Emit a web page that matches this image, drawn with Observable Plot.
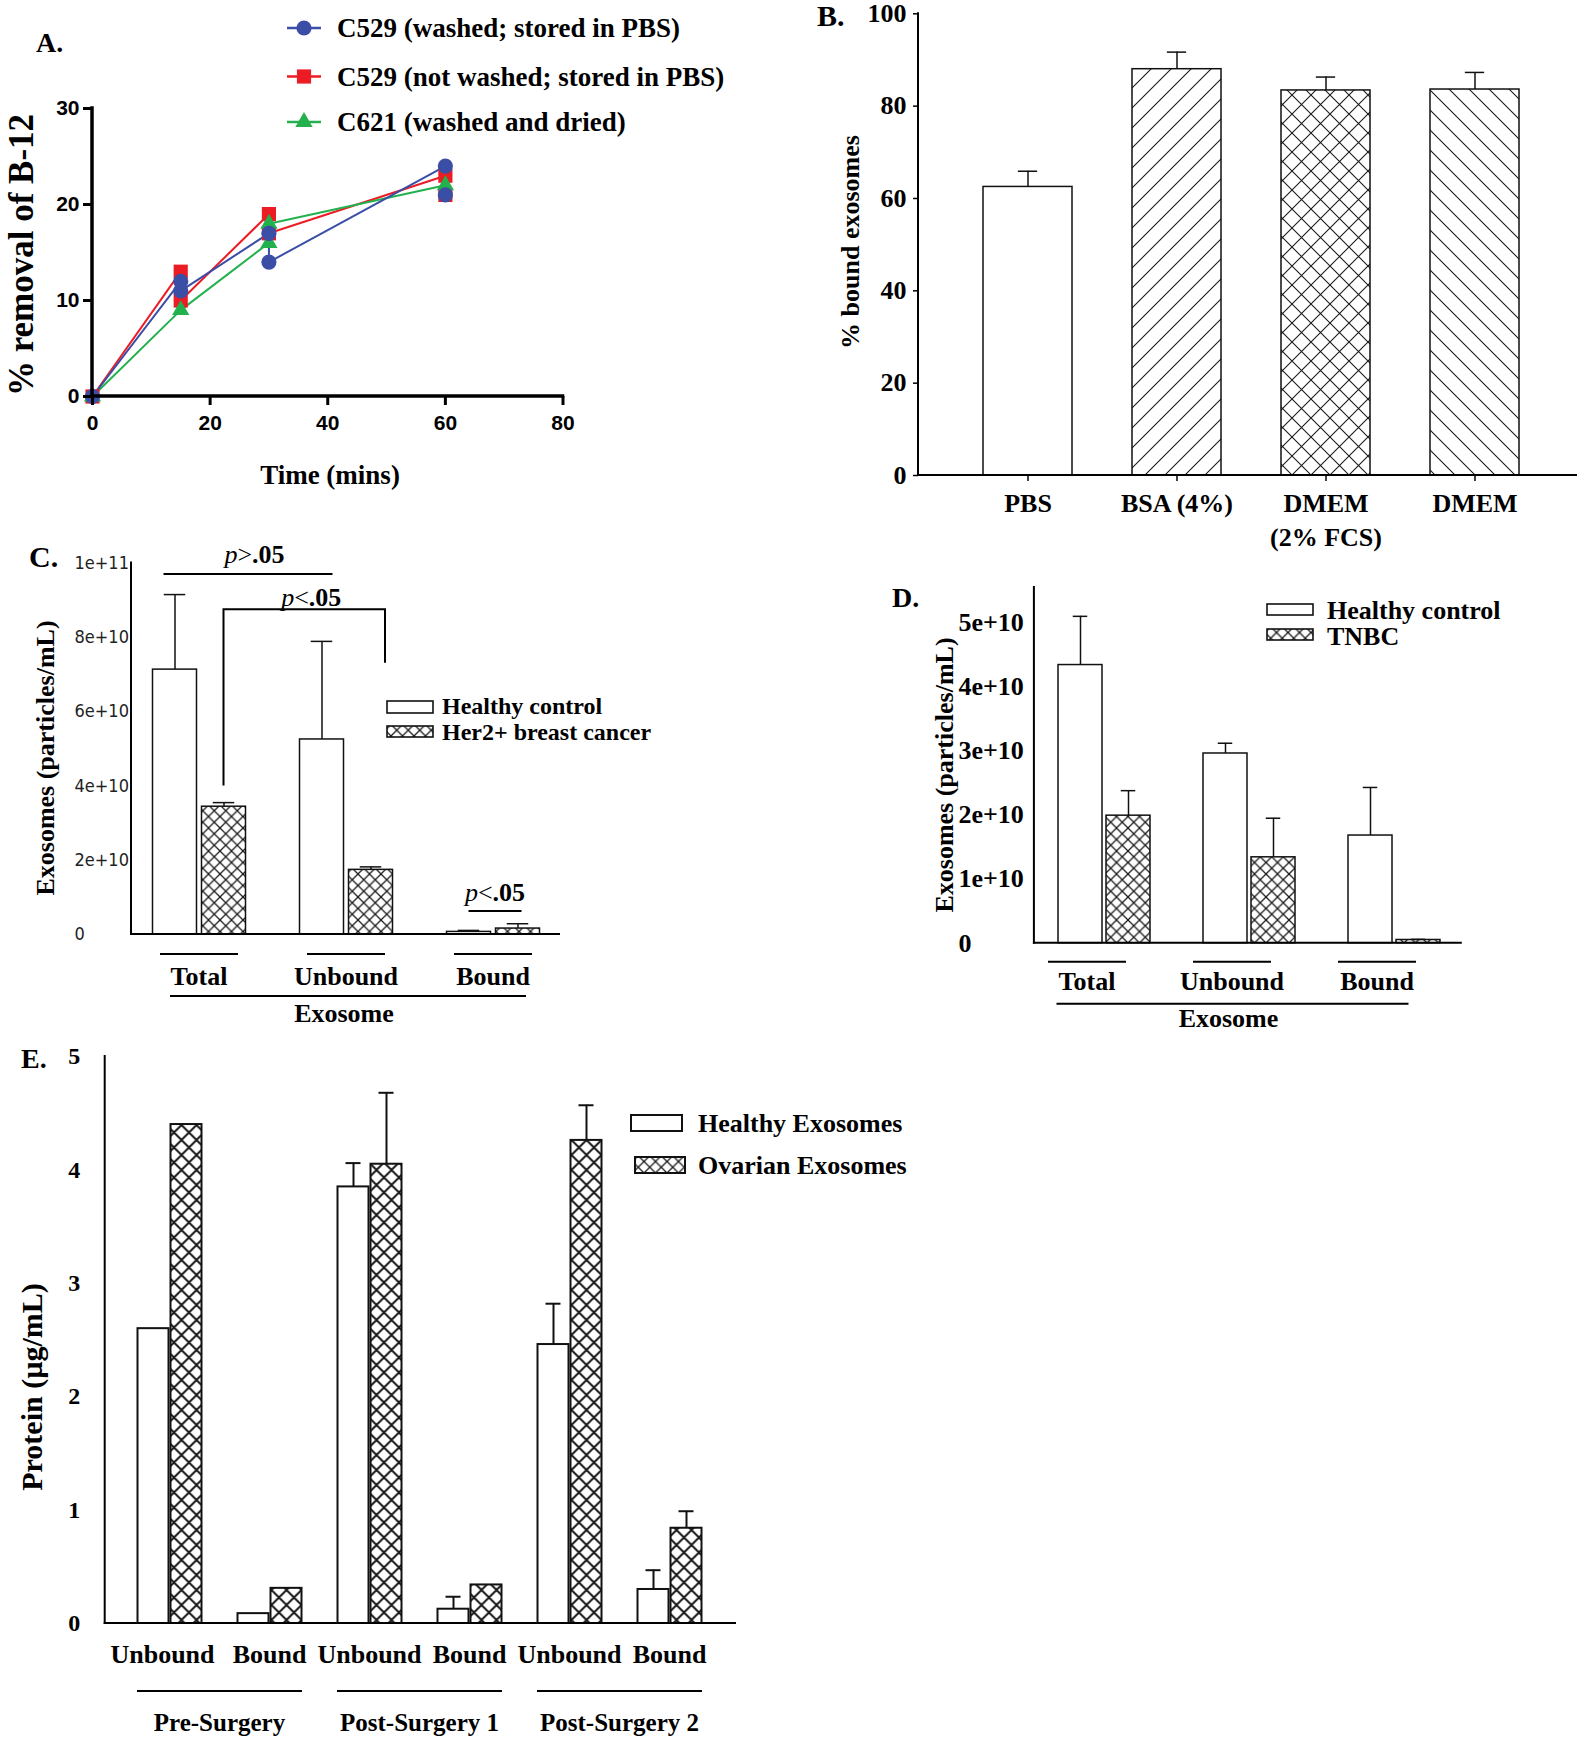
<!DOCTYPE html>
<html>
<head>
<meta charset="utf-8">
<script src="https://cdn.jsdelivr.net/npm/d3@7"></script>
<script src="https://cdn.jsdelivr.net/npm/@observablehq/plot@0.6"></script>
<style>
  html, body { margin: 0; padding: 0; background: #fff; }
  #fig { position: relative; width: 1592px; height: 1743px; overflow: hidden; background: #fff; }
  #fig > svg { position: absolute; left: 0; top: 0; }
</style>
</head>
<body>
<div id="fig"></div>
<script>
// ---------- Panel A: % removal of B-12 over time ----------
const seriesNamesA = ["C529 (washed; stored in PBS)", "C529 (not washed; stored in PBS)", "C621 (washed and dried)"];
const timeA1 = [0, 15, 15, 30, 30, 60, 60];
const removalA1 = [0, 12, 11, 17, 14, 24, 21];
const timeA2 = [0, 15, 15, 30, 30, 60, 60];
const removalA2 = [0, 13, 10, 19, 17, 23, 21];
const timeA3 = [0, 15, 30, 30, 60];
const removalA3 = [0, 9, 16, 18, 22];
const timeTicksA = [0, 20, 40, 60, 80];
const removalTicksA = [0, 10, 20, 30];

// ---------- Panel B: % bound exosomes by medium ----------
const mediaB = ["PBS", "BSA (4%)", "DMEM\n(2% FCS)", "DMEM"];
const boundB = [62.5, 88.0, 83.4, 83.6];
const boundSemB = [3.4, 3.7, 2.9, 3.7];
const boundTicksB = [0, 20, 40, 60, 80, 100];

// ---------- Panel C: Healthy vs Her2+ exosomes ----------
const groupsC = ["Total", "Unbound", "Bound"];
const healthyC = [7.13e10, 5.25e10, 0.07e10];
const healthySemC = [2.02e10, 2.64e10, 0.04e10];
const her2C = [3.44e10, 1.74e10, 0.16e10];
const her2SemC = [0.11e10, 0.08e10, 0.13e10];
const ticksC = [0, 2e10, 4e10, 6e10, 8e10, 1e11];

// ---------- Panel D: Healthy vs TNBC exosomes ----------
const groupsD = ["Total", "Unbound", "Bound"];
const healthyD = [4.34e10, 2.96e10, 1.68e10];
const healthySemD = [0.76e10, 0.16e10, 0.75e10];
const tnbcD = [1.99e10, 1.34e10, 0.05e10];
const tnbcSemD = [0.39e10, 0.61e10, 0.01e10];
const ticksD = [0, 1e10, 2e10, 3e10, 4e10, 5e10];

// ---------- Panel E: protein, healthy vs ovarian exosomes ----------
const stagesE = ["Pre-Surgery", "Post-Surgery 1", "Post-Surgery 2"];
const fractionsE = ["Unbound", "Bound"];
const healthyE = [2.60, 0.087, 3.85, 0.126, 2.46, 0.30];
const healthySemE = [0, 0, 0.21, 0.11, 0.36, 0.17];
const ovarianE = [4.40, 0.31, 4.05, 0.34, 4.26, 0.84];
const ovarianSemE = [0, 0, 0.63, 0, 0.31, 0.15];
const ticksE = [0, 1, 2, 3, 4, 5];

// ---------- shared setup ----------
const W = 1592, H = 1743;
const SERIF = "'Liberation Serif', 'Times New Roman', Times, serif";
const SANS = "'Liberation Sans', Arial, Helvetica, sans-serif";
const NARROW = "'Liberation Sans Narrow', 'Arial Narrow', 'DejaVu Sans Condensed', sans-serif";
const INK = "#111";

const fig = document.getElementById("fig");

// hatch patterns used as bar fills
const defs = d3.select(fig).append("svg").attr("width", 0).attr("height", 0).append("defs");
function hatch(id, size, path, sw) {
  defs.append("pattern")
    .attr("id", id).attr("patternUnits", "userSpaceOnUse")
    .attr("width", size).attr("height", size)
    .append("path").attr("d", path)
    .attr("stroke", "#1a1a1a").attr("stroke-width", sw).attr("fill", "none");
}
hatch("hatchFwd", 20, "M-5,5L5,-5M0,20L20,0M15,25L25,15", 1.1);
hatch("hatchBack", 20, "M-5,15L5,25M0,0L20,20M15,-5L25,5", 1.1);
hatch("crossLarge", 19, "M0,0L19,19M19,0L0,19", 1.1);
hatch("crossSmall", 11.5, "M0,0L11.5,11.5M11.5,0L0,11.5", 1.3);
hatch("crossBold", 15, "M0,0L15,15M15,0L0,15", 2);

// every panel is a page-sized plot whose frame is placed by its margins
function framePlot({left, right, top, bottom, x, y, marks}) {
  const svg = Plot.plot({
    width: W, height: H,
    marginLeft: left, marginRight: W - right,
    marginTop: top, marginBottom: H - bottom,
    x, y, marks,
    style: {background: "transparent", overflow: "visible", maxWidth: "none"}
  });
  fig.appendChild(svg);
  return svg;
}

const bandwidthOf = s => typeof s.bandwidth === "function" ? s.bandwidth() : (s.bandwidth || 0);

// left and bottom axis lines along the plot frame
const axisLines = (sw) => (index, scales, values, dims) => {
  const {width, height, marginLeft, marginRight, marginTop, marginBottom} = dims;
  const g = d3.create("svg:g").attr("stroke", "#000").attr("stroke-width", sw).attr("stroke-linecap", "square");
  const y0 = height - marginBottom;
  g.append("line").attr("x1", marginLeft).attr("x2", marginLeft).attr("y1", marginTop).attr("y2", y0);
  g.append("line").attr("x1", marginLeft).attr("x2", width - marginRight).attr("y1", y0).attr("y2", y0);
  return g.node();
};

function svgText(g, x, y, text, {size = 26, anchor = "middle", family = SERIF, weight = "bold"} = {}) {
  return g.append("text").attr("x", x).attr("y", y)
    .attr("font-size", size).attr("font-family", family).attr("font-weight", weight)
    .attr("text-anchor", anchor).attr("dominant-baseline", "central").attr("fill", "#000")
    .text(text);
}
function svgLine(g, x1, y1, x2, y2, sw = 2) {
  return g.append("line").attr("x1", x1).attr("y1", y1).attr("x2", x2).attr("y2", y2)
    .attr("stroke", "#000").attr("stroke-width", sw);
}
function pValue(g, x, y, rel) {
  const t = g.append("text").attr("x", x).attr("y", y)
    .attr("font-size", 26).attr("font-family", SERIF)
    .attr("text-anchor", "middle").attr("dominant-baseline", "central");
  t.append("tspan").attr("font-style", "italic").text("p");
  t.append("tspan").text(rel);
  t.append("tspan").attr("font-weight", "bold").text(".05");
}

// bars with upward error bars for one series, shifted within its category by dx
function barSeries(rows, {dx, fill, bw, cap, sw = 1.5}) {
  const inset = (bw - cap) / 2;
  return [
    Plot.barY(rows, {x: "key", y: "value", dx, fill, stroke: INK, strokeWidth: sw}),
    Plot.ruleX(rows.filter(d => d.sem > 0), {x: "key", y1: "value", y2: d => d.value + d.sem, dx, stroke: INK, strokeWidth: sw}),
    Plot.tickY(rows.filter(d => d.sem > 0), {x: "key", y: d => d.value + d.sem, dx, insetLeft: inset, insetRight: inset, stroke: INK, strokeWidth: sw})
  ];
}
const zipRows = (keys, values, sems) => keys.map((key, i) => ({key, value: values[i], sem: sems[i]}));
const sciFormat = v => v === 0 ? "0" : d3.format(".0e")(v);

// ---------- Panel A ----------
const colorsA = ["#3b4ea6", "#ec1c24", "#23b14d"];
const symbolsA = ["circle", "square", "triangle"];
const radiiA = [7.6, 8, 6.4];
const rowsA = [
  timeA1.map((t, i) => ({t, v: removalA1[i]})),
  timeA2.map((t, i) => ({t, v: removalA2[i]})),
  timeA3.map((t, i) => ({t, v: removalA3[i]}))
];
const drawOrderA = [1, 2, 0];
framePlot({
  left: 92, right: 562.5, top: 108, bottom: 396,
  x: {domain: [0, 80]},
  y: {domain: [0, 30]},
  marks: [
    ...drawOrderA.map(k => Plot.line(rowsA[k], {x: "t", y: "v", stroke: colorsA[k], strokeWidth: 2})),
    ...drawOrderA.map(k => Plot.dot(rowsA[k], {x: "t", y: "v", symbol: symbolsA[k], r: radiiA[k], fill: colorsA[k]})),
    Plot.axisX({ticks: timeTicksA, tickSize: 9, tickPadding: 10, strokeWidth: 3, label: null,
      fontSize: 21, fontWeight: "bold", fontFamily: SANS}),
    Plot.axisY({ticks: removalTicksA, tickSize: 9, tickPadding: 4, strokeWidth: 3, label: null,
      fontSize: 21, fontWeight: "bold", fontFamily: SANS}),
    axisLines(3.5)
  ]
});

// ---------- Panel B ----------
const fillsB = ["white", "url(#hatchFwd)", "url(#crossLarge)", "url(#hatchBack)"];
const rowsB = zipRows(mediaB, boundB, boundSemB);
framePlot({
  left: 918, right: 1576, top: 13.3, bottom: 475,
  x: {type: "band", domain: mediaB, paddingInner: 0.4, paddingOuter: 0.4, align: 0.533},
  y: {domain: [0, 100]},
  marks: [
    ...rowsB.flatMap((d, i) => barSeries([d], {dx: 0, fill: fillsB[i], bw: 89.7, cap: 20})),
    Plot.axisX({tickSize: 6, tickPadding: 7, strokeWidth: 1.5, label: null, lineHeight: 1.3,
      fontSize: 26, fontWeight: "bold", fontFamily: SERIF}),
    Plot.axisY({ticks: boundTicksB, tickSize: 5, tickPadding: 7, strokeWidth: 1.5, label: null,
      fontSize: 26, fontWeight: "bold", fontFamily: SERIF}),
    axisLines(2)
  ]
});

// ---------- Panel C ----------
const rowsHealthyC = zipRows(groupsC, healthyC, healthySemC);
const rowsHer2C = zipRows(groupsC, her2C, her2SemC);
const annotateC = (index, scales) => {
  const sx = scales.x, sy = scales.y, bw = bandwidthOf(sx);
  const cx = k => sx(k) + bw / 2;
  const g = d3.create("svg:g");
  const y0 = sy(0);
  // significance marks
  const yTop = sy(9.69e10);
  svgLine(g, cx("Total") - 35.5, yTop, cx("Unbound") - 13.5, yTop, 2);
  pValue(g, (cx("Total") + cx("Unbound")) / 2 - 18, yTop - 20, ">");
  const yBr = sy(8.74e10), xl = cx("Total") + 24.5, xr = cx("Unbound") + 39;
  g.append("path").attr("d", `M${xl},${sy(4.0e10)}V${yBr}H${xr}V${sy(7.3e10)}`)
    .attr("fill", "none").attr("stroke", "#000").attr("stroke-width", 2);
  pValue(g, (xl + xr) / 2 + 7, yBr - 12, "<");
  const yB = sy(6.2e9);
  svgLine(g, cx("Bound") - 24.5, yB, cx("Bound") + 28.5, yB, 2);
  pValue(g, cx("Bound") + 2, yB - 19, "<");
  // category labels beneath the axis
  for (const k of groupsC) {
    svgLine(g, cx(k) - 39, y0 + 20, cx(k) + 39, y0 + 20, 2);
    svgText(g, cx(k), y0 + 42, k, {size: 26});
  }
  svgLine(g, cx("Total") - 29, y0 + 62, cx("Bound") + 33, y0 + 62, 2);
  svgText(g, cx("Unbound") - 2, y0 + 79, "Exosome", {size: 26});
  return g.node();
};
framePlot({
  left: 131, right: 559, top: 562.5, bottom: 934,
  x: {type: "band", domain: groupsC, paddingInner: 0.698, paddingOuter: 0.3, align: 0.517, axis: null},
  y: {domain: [0, 1e11]},
  marks: [
    ...barSeries(rowsHealthyC, {dx: -24.5, fill: "white", bw: 44.5, cap: 22}),
    ...barSeries(rowsHer2C, {dx: 24.5, fill: "url(#crossSmall)", bw: 44.5, cap: 22}),
    Plot.axisY({ticks: ticksC, tickFormat: sciFormat, tickSize: 0, tickPadding: 57, textAnchor: "start", label: null,
      fontSize: 18, fontFamily: NARROW, fill: "#222"}),
    axisLines(2),
    annotateC
  ]
});

// ---------- Panel D ----------
const rowsHealthyD = zipRows(groupsD, healthyD, healthySemD);
const rowsTnbcD = zipRows(groupsD, tnbcD, tnbcSemD);
const annotateD = (index, scales) => {
  const sx = scales.x, sy = scales.y, bw = bandwidthOf(sx);
  const cx = k => sx(k) + bw / 2;
  const g = d3.create("svg:g");
  const y0 = sy(0);
  for (const k of groupsD) {
    svgLine(g, cx(k) - 56, y0 + 19, cx(k) + 22, y0 + 19, 2);
    svgText(g, cx(k) - 17, y0 + 39, k, {size: 26});
  }
  svgLine(g, cx("Total") - 47.5, y0 + 61, cx("Bound") + 14.5, y0 + 61, 2);
  svgText(g, cx("Unbound") - 20.5, y0 + 76, "Exosome", {size: 26});
  return g.node();
};
framePlot({
  left: 1033.9, right: 1460.8, top: 587, bottom: 942.7,
  x: {type: "band", domain: groupsD, paddingInner: 0.695, paddingOuter: 0.31, align: 0.523, axis: null},
  y: {domain: [0, 5.55e10]},
  marks: [
    ...barSeries(rowsHealthyD, {dx: -24, fill: "white", bw: 44.5, cap: 15}),
    ...barSeries(rowsTnbcD, {dx: 24, fill: "url(#crossSmall)", bw: 44.5, cap: 15}),
    Plot.axisY({ticks: ticksD, tickFormat: sciFormat, tickSize: 0, tickPadding: 76, textAnchor: "start", label: null,
      fontSize: 26, fontWeight: "bold", fontFamily: SERIF}),
    axisLines(2),
    annotateD
  ]
});

// ---------- Panel E ----------
const keysE = stagesE.flatMap(s => fractionsE.map(f => `${s} · ${f}`));
const rowsHealthyE = zipRows(keysE, healthyE, healthySemE);
const rowsOvarianE = zipRows(keysE, ovarianE, ovarianSemE);
const annotateE = (index, scales) => {
  const sx = scales.x, sy = scales.y, bw = bandwidthOf(sx);
  const cx = k => sx(k) + bw / 2;
  const g = d3.create("svg:g");
  const y0 = sy(0);
  keysE.forEach((k, i) => svgText(g, cx(k) - (i === 0 ? 7 : 0), y0 + 31, fractionsE[i % fractionsE.length], {size: 26}));
  stagesE.forEach((s, i) => {
    const a = cx(keysE[2 * i]) - 32.5, b = cx(keysE[2 * i + 1]) + 32.5;
    svgLine(g, a, y0 + 68, b, y0 + 68, 2);
    svgText(g, (a + b) / 2, y0 + 99, s, {size: 25});
  });
  return g.node();
};
framePlot({
  left: 104.7, right: 735, top: 1056, bottom: 1623,
  x: {type: "band", domain: keysE, paddingInner: 0.693, paddingOuter: 0.467, align: 0.5, axis: null},
  y: {domain: [0, 5]},
  marks: [
    ...barSeries(rowsHealthyE, {dx: -16.5, fill: "white", bw: 31, cap: 15, sw: 2}),
    ...barSeries(rowsOvarianE, {dx: 16.5, fill: "url(#crossBold)", bw: 31, cap: 15, sw: 2}),
    Plot.axisY({ticks: ticksE, tickFormat: d3.format("d"), tickSize: 0, tickPadding: 25, label: null,
      fontSize: 24, fontWeight: "bold", fontFamily: SERIF}),
    axisLines(2),
    annotateE
  ]
});

// ---------- titles, axis titles and legends ----------
const ov = d3.select(fig).append("svg").attr("width", W).attr("height", H);

// panel letters
svgText(ov, 36, 42, "A.", {size: 28, anchor: "start"});
svgText(ov, 817, 15, "B.", {size: 30, anchor: "start"});
svgText(ov, 29, 556, "C.", {size: 30, anchor: "start"});
svgText(ov, 892, 597, "D.", {size: 28, anchor: "start"});
svgText(ov, 21, 1058, "E.", {size: 28, anchor: "start"});

// axis titles
function rotated(x, y, text, size) {
  svgText(ov, x, y, text, {size}).attr("transform", `rotate(-90,${x},${y})`);
}
rotated(21, 255, "% removal of B-12", 35);
svgText(ov, 330, 475, "Time (mins)", {size: 27});
rotated(850, 242, "% bound exosomes", 26);
rotated(45, 758, "Exosomes (particles/mL)", 26);
rotated(944, 775, "Exosomes (particles/mL)", 26);
rotated(31, 1387, "Protein (µg/mL)", 30);

// Panel A legend
const legendRowsA = [28, 76.5, 122];
seriesNamesA.forEach((name, k) => {
  const y = legendRowsA[k];
  svgLine(ov, 287, y, 321, y, 2.5).attr("stroke", colorsA[k]);
  const size = Math.PI * radiiA[k] * radiiA[k];
  const sym = {circle: d3.symbolCircle, square: d3.symbolSquare, triangle: d3.symbolTriangle}[symbolsA[k]];
  ov.append("path").attr("d", d3.symbol(sym, size)()).attr("transform", `translate(304,${y})`).attr("fill", colorsA[k]);
  svgText(ov, 337, y, name, {size: 27, anchor: "start"});
});

// swatch legends for the bar panels
function swatchLegend(items) {
  for (const {x, y, w, h, fill, label, tx, ty, size, sw = 1.6} of items) {
    ov.append("rect").attr("x", x).attr("y", y).attr("width", w).attr("height", h)
      .attr("fill", fill).attr("stroke", INK).attr("stroke-width", sw);
    svgText(ov, tx, ty, label, {size, anchor: "start"});
  }
}
swatchLegend([
  {x: 387, y: 701, w: 46, h: 12, fill: "white", label: "Healthy control", tx: 442, ty: 706, size: 24},
  {x: 387, y: 726, w: 46, h: 11, fill: "url(#crossSmall)", label: "Her2+ breast cancer", tx: 442, ty: 731.5, size: 24},
  {x: 1267, y: 604, w: 46, h: 11, fill: "white", label: "Healthy control", tx: 1327, ty: 610, size: 26},
  {x: 1267, y: 629, w: 46, h: 11, fill: "url(#crossSmall)", label: "TNBC", tx: 1327, ty: 636, size: 26},
  {x: 631, y: 1115, w: 51, h: 16, fill: "white", label: "Healthy Exosomes", tx: 698, ty: 1123, size: 26, sw: 2},
  {x: 635, y: 1157, w: 50, h: 16, fill: "url(#crossSmall)", label: "Ovarian Exosomes", tx: 698, ty: 1165, size: 26, sw: 2}
]);
</script>
</body>
</html>
